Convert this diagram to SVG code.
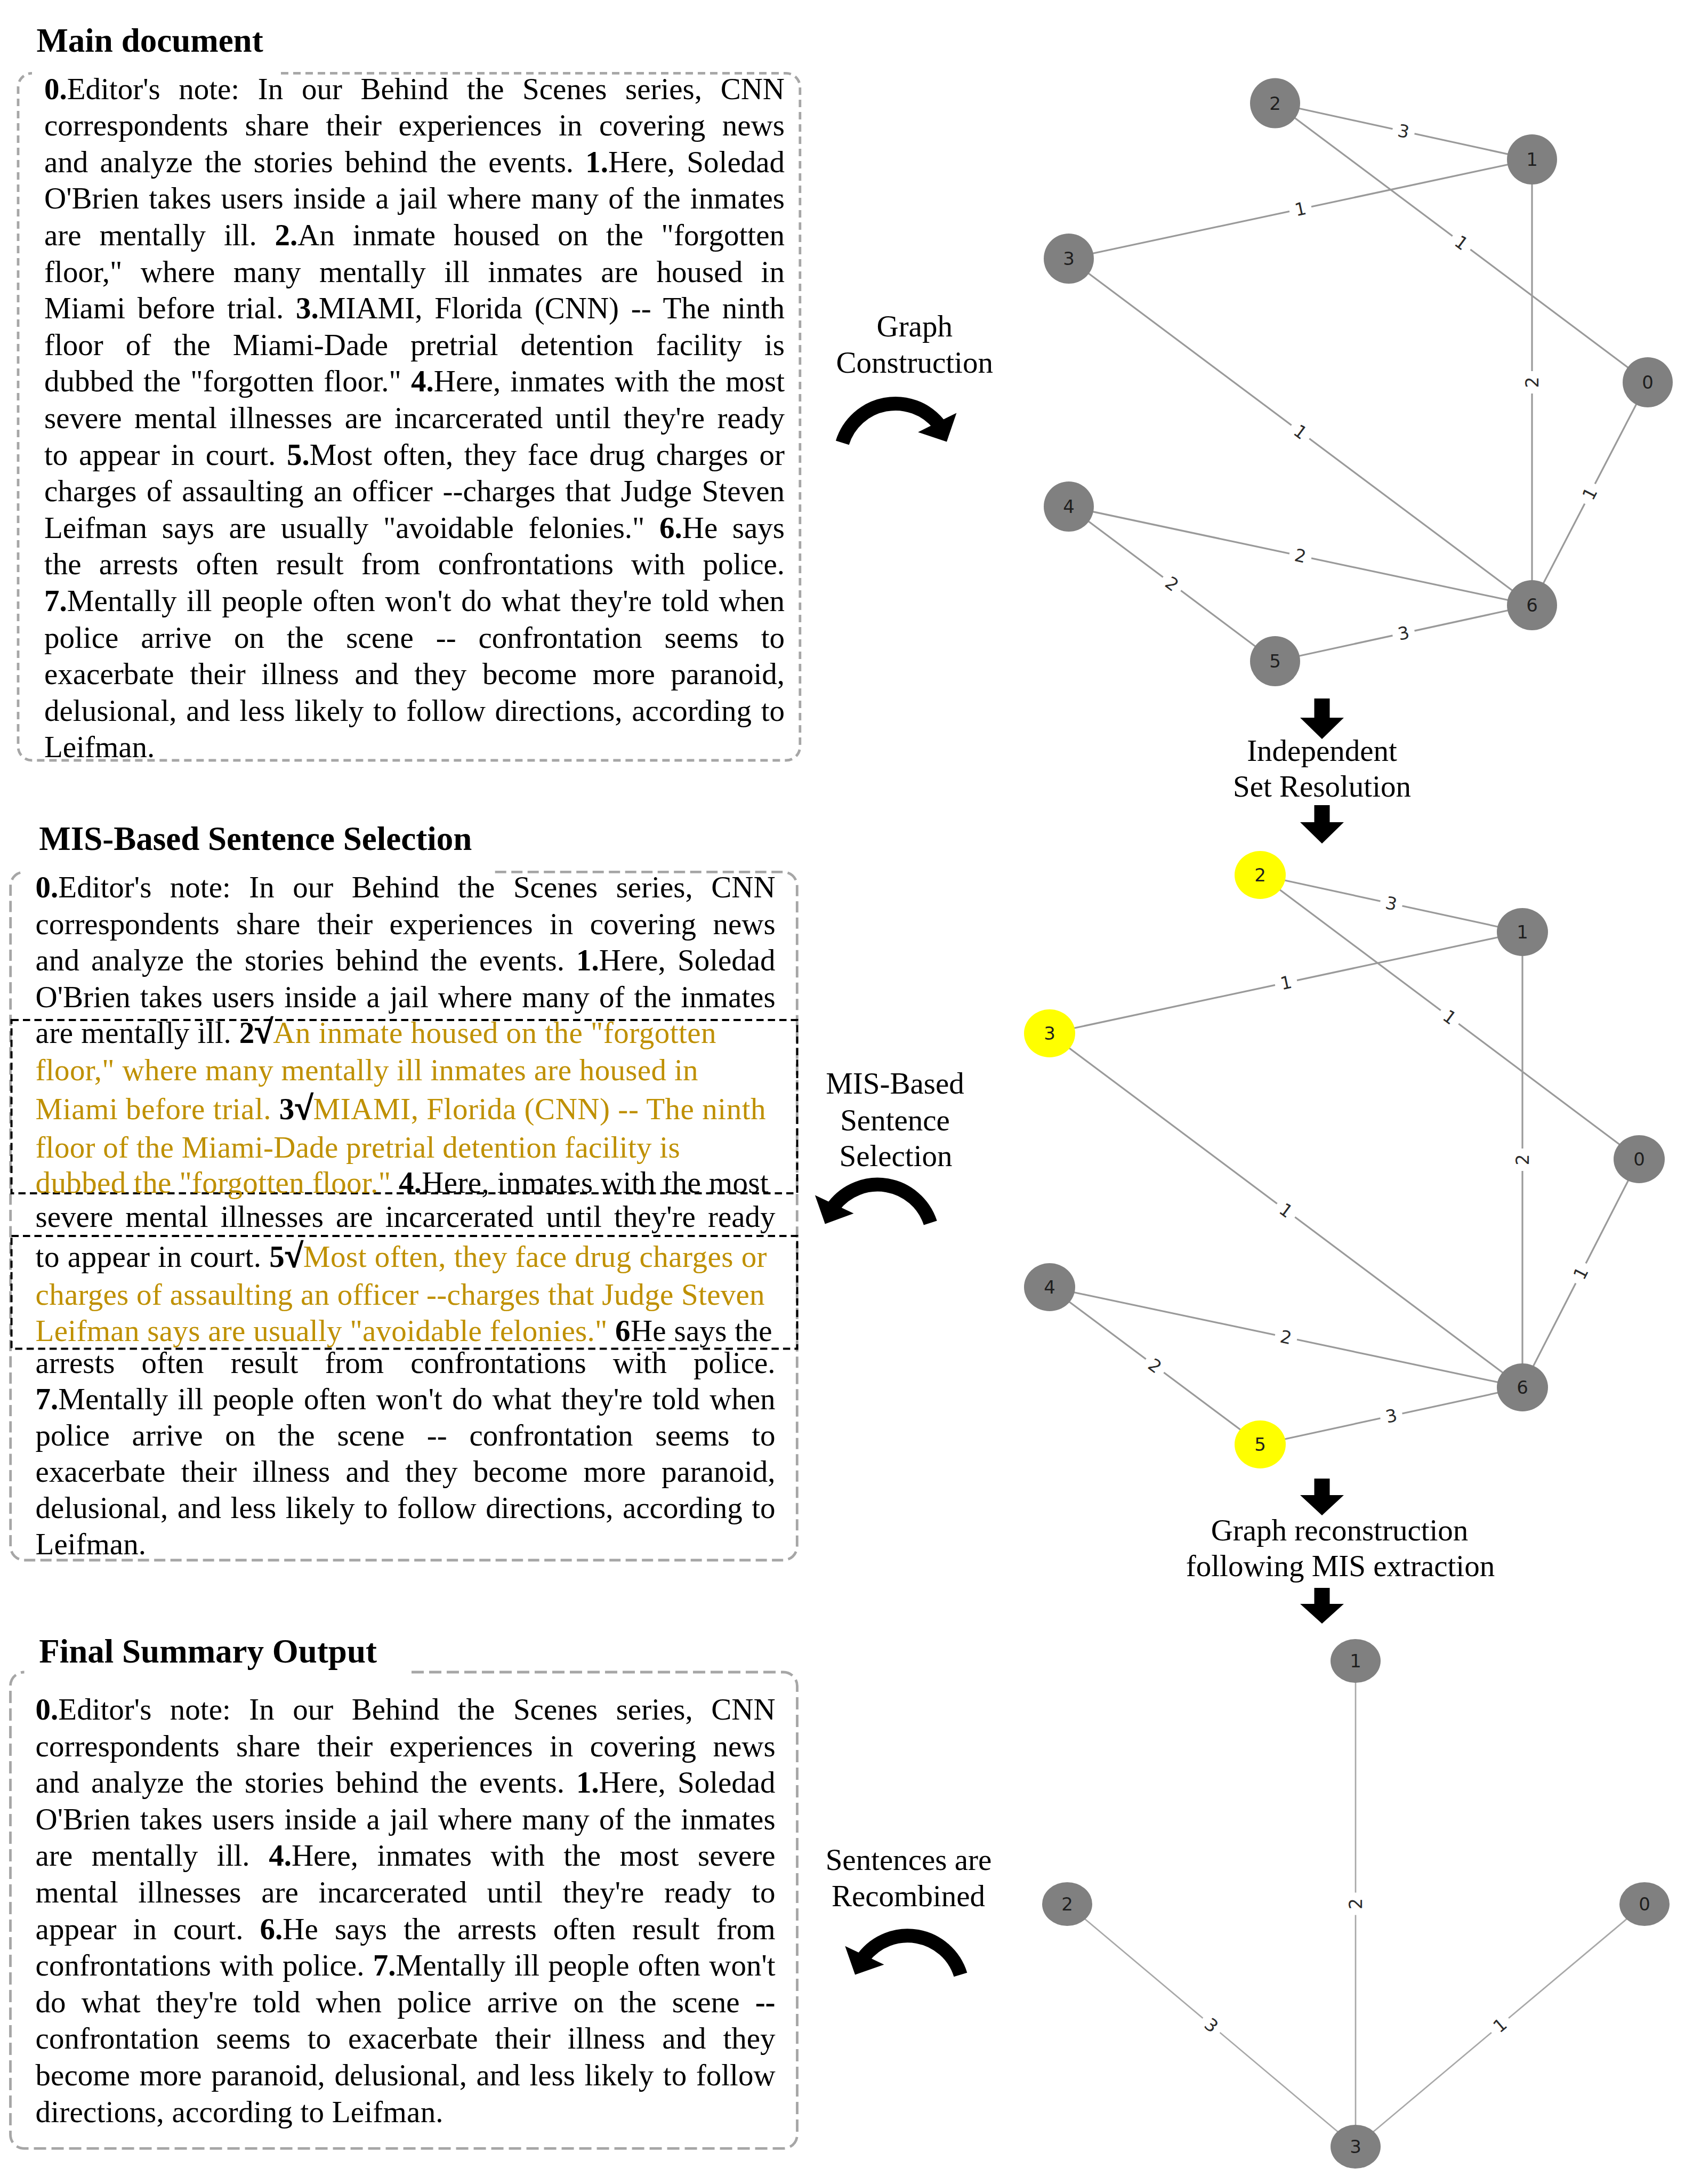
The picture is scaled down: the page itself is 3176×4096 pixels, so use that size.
<svg xmlns="http://www.w3.org/2000/svg" width="3176" height="4096" viewBox="0 0 3176 4096">
<defs>
<style>
.t{font-family:"Liberation Serif","Times New Roman",serif;font-size:57px;fill:#000}
.b{font-weight:bold;fill:#000}
.ck{font-weight:bold;fill:#000;stroke:#000;stroke-width:2.2;font-size:62px}
.g{fill:#BF9000}
.h{font-family:"Liberation Serif","Times New Roman",serif;font-size:63px;font-weight:bold;fill:#000}
.c{font-family:"Liberation Serif","Times New Roman",serif;font-size:57px;fill:#000;text-anchor:middle}
.box{fill:none;stroke:#A6A6A6;stroke-width:4.8}
.sel{fill:none;stroke:#000;stroke-width:4;stroke-dasharray:13.5 8}
.e{stroke:#9A9A9A;stroke-width:3.2;fill:none}
.e3{stroke:#A8A8A8;stroke-width:2.7;fill:none}
.n{fill:#808080}
.y{fill:#FFFF00}
.nl{font-family:"DejaVu Sans",sans-serif;font-size:34px;fill:#1e1e1e;text-anchor:middle;dominant-baseline:central}
.el{font-family:"DejaVu Sans",sans-serif;font-size:33px;fill:#2a2a2a;text-anchor:middle;dominant-baseline:central}
.lb{fill:#fff}
.arc{fill:none;stroke:#000;stroke-width:26}
</style>
</defs>
<rect width="3176" height="4096" fill="#fff"/>

<!-- ===== Box 1: Main document ===== -->
<g id="main-document">
<text class="h" x="68.4" y="96.8">Main document</text>
<path class="box" stroke-dasharray="14 9" d="M527,137.4 H1474.8 A26,26 0 0 1 1500.8,163.4 V1400 A26,26 0 0 1 1474.8,1426 H60 A26,26 0 0 1 34,1400 V163.4 A26,26 0 0 1 60,137.4"/>
<g class="t">
<text x="83" y="185.6" textLength="1389" lengthAdjust="spacing" word-spacing="20.4"><tspan class="b">0.</tspan>Editor's note: In our Behind the Scenes series, CNN</text>
<text x="83" y="254.2" textLength="1389" lengthAdjust="spacing" word-spacing="17.3">correspondents share their experiences in covering news</text>
<text x="83" y="322.8" textLength="1389" lengthAdjust="spacing" word-spacing="8">and analyze the stories behind the events. <tspan class="b">1.</tspan>Here, Soledad</text>
<text x="83" y="391.4" textLength="1389" lengthAdjust="spacing" word-spacing="4">O'Brien takes users inside a jail where many of the inmates</text>
<text x="83" y="460" textLength="1389" lengthAdjust="spacing" word-spacing="19.5">are mentally ill. <tspan class="b">2.</tspan>An inmate housed on the "forgotten</text>
<text x="83" y="528.6" textLength="1389" lengthAdjust="spacing" word-spacing="20.1">floor," where many mentally ill inmates are housed in</text>
<text x="83" y="597.2" textLength="1389" lengthAdjust="spacing" word-spacing="8.4">Miami before trial. <tspan class="b">3.</tspan>MIAMI, Florida (CNN) -- The ninth</text>
<text x="83" y="665.8" textLength="1389" lengthAdjust="spacing" word-spacing="27.7">floor of the Miami-Dade pretrial detention facility is</text>
<text x="83" y="734.4" textLength="1389" lengthAdjust="spacing" word-spacing="3.8">dubbed the "forgotten floor." <tspan class="b">4.</tspan>Here, inmates with the most</text>
<text x="83" y="803" textLength="1389" lengthAdjust="spacing" word-spacing="9.1">severe mental illnesses are incarcerated until they're ready</text>
<text x="83" y="871.6" textLength="1389" lengthAdjust="spacing" word-spacing="6.4">to appear in court. <tspan class="b">5.</tspan>Most often, they face drug charges or</text>
<text x="83" y="940.2" textLength="1389" lengthAdjust="spacing" word-spacing="4.3">charges of assaulting an officer --charges that Judge Steven</text>
<text x="83" y="1008.8" textLength="1389" lengthAdjust="spacing" word-spacing="13.4">Leifman says are usually "avoidable felonies." <tspan class="b">6.</tspan>He says</text>
<text x="83" y="1077.4" textLength="1389" lengthAdjust="spacing" word-spacing="18.9">the arrests often result from confrontations with police.</text>
<text x="83" y="1146" textLength="1389" lengthAdjust="spacing" word-spacing="4.3"><tspan class="b">7.</tspan>Mentally ill people often won't do what they're told when</text>
<text x="83" y="1214.6" textLength="1389" lengthAdjust="spacing" word-spacing="27.6">police arrive on the scene -- confrontation seems to</text>
<text x="83" y="1283.2" textLength="1389" lengthAdjust="spacing" word-spacing="15.3">exacerbate their illness and they become more paranoid,</text>
<text x="83" y="1351.8" textLength="1389" lengthAdjust="spacing" word-spacing="3.4">delusional, and less likely to follow directions, according to</text>
<text x="83" y="1420.4">Leifman.</text>
</g>
</g>

<!-- ===== Box 2: MIS-Based Sentence Selection ===== -->
<g id="mis-selection">
<text class="h" x="73.3" y="1593.7">MIS-Based Sentence Selection</text>
<path class="box" stroke-dasharray="21 9.5" d="M928.7,1635.4 H1469.3 A26,26 0 0 1 1495.3,1661.4 V2900 A26,26 0 0 1 1469.3,2926 H45.7 A26,26 0 0 1 19.7,2900 V1661.4 A26,26 0 0 1 45.7,1635.4"/>
<rect class="sel" x="21.5" y="1913" width="1474" height="325"/>
<rect class="sel" x="21.5" y="2318" width="1474" height="211.4"/>
<g class="t">
<text x="66.6" y="1683.4" textLength="1388" lengthAdjust="spacing" word-spacing="20.2"><tspan class="b">0.</tspan>Editor's note: In our Behind the Scenes series, CNN</text>
<text x="66.6" y="1751.9" textLength="1388" lengthAdjust="spacing" word-spacing="17.1">correspondents share their experiences in covering news</text>
<text x="66.6" y="1820.3" textLength="1388" lengthAdjust="spacing" word-spacing="7.9">and analyze the stories behind the events. <tspan class="b">1.</tspan>Here, Soledad</text>
<text x="66.6" y="1888.7" textLength="1388" lengthAdjust="spacing" word-spacing="3.85">O'Brien takes users inside a jail where many of the inmates</text>
<text x="66.6" y="1956.4" textLength="1277" lengthAdjust="spacing">are mentally ill. <tspan class="b">2</tspan><tspan class="ck">√</tspan><tspan class="g">An inmate housed on the "forgotten</tspan></text>
<text x="66.6" y="2026.4" textLength="1243" lengthAdjust="spacing" class="g">floor," where many mentally ill inmates are housed in</text>
<text x="66.6" y="2098.7" textLength="1370" lengthAdjust="spacing"><tspan class="g">Miami before trial. </tspan><tspan class="b">3</tspan><tspan class="ck">√</tspan><tspan class="g">MIAMI, Florida (CNN) -- The ninth</tspan></text>
<text x="66.6" y="2170.6" textLength="1209" lengthAdjust="spacing" class="g">floor of the Miami-Dade pretrial detention facility is</text>
<text x="66.6" y="2237.2" textLength="1375" lengthAdjust="spacing"><tspan class="g">dubbed the "forgotten floor."</tspan> <tspan class="b">4.</tspan>Here, inmates with the most</text>
<text x="66.6" y="2300.6" textLength="1388" lengthAdjust="spacing" word-spacing="8.9">severe mental illnesses are incarcerated until they're ready</text>
<text x="66.6" y="2375.6" textLength="1372" lengthAdjust="spacing">to appear in court. <tspan class="b">5</tspan><tspan class="ck">√</tspan><tspan class="g">Most often, they face drug charges or</tspan></text>
<text x="66.6" y="2446.7" textLength="1368" lengthAdjust="spacing" class="g">charges of assaulting an officer --charges that Judge Steven</text>
<text x="66.6" y="2515.4" textLength="1382" lengthAdjust="spacing"><tspan class="g">Leifman says are usually "avoidable felonies."</tspan> <tspan class="b">6</tspan>He says the</text>
<text x="66.6" y="2575.4" textLength="1388" lengthAdjust="spacing" word-spacing="35.8">arrests often result from confrontations with police.</text>
<text x="66.6" y="2643.3" textLength="1388" lengthAdjust="spacing" word-spacing="4.2"><tspan class="b">7.</tspan>Mentally ill people often won't do what they're told when</text>
<text x="66.6" y="2711.3" textLength="1388" lengthAdjust="spacing" word-spacing="27.5">police arrive on the scene -- confrontation seems to</text>
<text x="66.6" y="2779.2" textLength="1388" lengthAdjust="spacing" word-spacing="15.1">exacerbate their illness and they become more paranoid,</text>
<text x="66.6" y="2847.1" textLength="1388" lengthAdjust="spacing" word-spacing="3.3">delusional, and less likely to follow directions, according to</text>
<text x="66.6" y="2915">Leifman.</text>
</g>
</g>

<!-- ===== Box 3: Final Summary Output ===== -->
<g id="final-summary">
<text class="h" x="73.3" y="3118">Final Summary Output</text>
<path class="box" stroke-dasharray="23 10" d="M772,3136 H1469.5 A26,26 0 0 1 1495.5,3162 V4003.4 A26,26 0 0 1 1469.5,4029.4 H45.5 A26,26 0 0 1 19.5,4003.4 V3162 A26,26 0 0 1 45.5,3136"/>
<g class="t">
<text x="66.6" y="3224.9" textLength="1388" lengthAdjust="spacing" word-spacing="20.2"><tspan class="b">0.</tspan>Editor's note: In our Behind the Scenes series, CNN</text>
<text x="66.6" y="3293.5" textLength="1388" lengthAdjust="spacing" word-spacing="17.1">correspondents share their experiences in covering news</text>
<text x="66.6" y="3362.1" textLength="1388" lengthAdjust="spacing" word-spacing="7.9">and analyze the stories behind the events. <tspan class="b">1.</tspan>Here, Soledad</text>
<text x="66.6" y="3430.7" textLength="1388" lengthAdjust="spacing" word-spacing="3.85">O'Brien takes users inside a jail where many of the inmates</text>
<text x="66.6" y="3499.3" textLength="1388" lengthAdjust="spacing" word-spacing="21.3">are mentally ill. <tspan class="b">4.</tspan>Here, inmates with the most severe</text>
<text x="66.6" y="3567.9" textLength="1388" lengthAdjust="spacing" word-spacing="23.4">mental illnesses are incarcerated until they're ready to</text>
<text x="66.6" y="3636.5" textLength="1388" lengthAdjust="spacing" word-spacing="16.9">appear in court. <tspan class="b">6.</tspan>He says the arrests often result from</text>
<text x="66.6" y="3705.1" textLength="1388" lengthAdjust="spacing" word-spacing="2.1">confrontations with police. <tspan class="b">7.</tspan>Mentally ill people often won't</text>
<text x="66.6" y="3773.7" textLength="1388" lengthAdjust="spacing" word-spacing="14.9">do what they're told when police arrive on the scene <tspan class="b">--</tspan></text>
<text x="66.6" y="3842.3" textLength="1388" lengthAdjust="spacing" word-spacing="17.6">confrontation seems to exacerbate their illness and they</text>
<text x="66.6" y="3910.9" textLength="1388" lengthAdjust="spacing" word-spacing="3.3">become more paranoid, delusional, and less likely to follow</text>
<text x="66.6" y="3979.5" textLength="765" lengthAdjust="spacing">directions, according to Leifman.</text>
</g>
</g>

<!-- ===== Step labels ===== -->
<g id="step-labels" class="c">
<text x="1715.7" y="630.9">Graph</text>
<text x="1715.7" y="699.1">Construction</text>
<text x="2480" y="1427.3">Independent</text>
<text x="2480" y="1494.1">Set Resolution</text>
<text x="1679" y="2051">MIS-Based</text>
<text x="1679" y="2119.6">Sentence</text>
<text x="1680.5" y="2187.3">Selection</text>
<text x="2513" y="2889">Graph reconstruction</text>
<text x="2514.5" y="2955.6">following MIS extraction</text>
<text x="1704.5" y="3507.4">Sentences are</text>
<text x="1704" y="3575.1">Recombined</text>
</g>

<!-- ===== Connectors ===== -->
<g id="connectors">
<path class="arc" d="M1580.3,830.3 A104.3,104.3 0 0 1 1761,795.7"/>
<polygon points="1722.2,810.6 1794.4,774.4 1776,828.5" fill="#000"/>
<path class="arc" d="M1745.3,2293.5 A104,104 0 0 0 1563.9,2262.3"/>
<polygon points="1528.9,2241.6 1601.5,2275.8 1547.8,2295.4" fill="#000"/>
<path class="arc" d="M1801.9,3703.5 A104,104 0 0 0 1620,3671"/>
<polygon points="1585.3,3649.8 1658.5,3684.5 1604.1,3703.6" fill="#000"/>
<polygon fill="#000" points="2465.5,1310 2494.5,1310 2494.5,1346 2521,1346 2480,1386 2439,1346 2465.5,1346"/>
<polygon fill="#000" points="2465.5,1510 2494.5,1510 2494.5,1542 2521,1542 2480,1582 2439,1542 2465.5,1542"/>
<polygon fill="#000" points="2465.5,2773 2494.5,2773 2494.5,2804 2521,2804 2480,2842 2439,2804 2465.5,2804"/>
<polygon fill="#000" points="2465.5,2978 2494.5,2978 2494.5,3008 2521,3008 2480,3045 2439,3008 2465.5,3008"/>

<g class="e">
<line x1="2392" y1="193.5" x2="2874" y2="299"/>
<line x1="2392" y1="193.5" x2="3091" y2="717"/>
<line x1="2005" y1="485" x2="2874" y2="299"/>
<line x1="2874" y1="299" x2="2874" y2="1135"/>
<line x1="2005" y1="485" x2="2874" y2="1135"/>
<line x1="3091" y1="717" x2="2874" y2="1135"/>
<line x1="2005" y1="950" x2="2874" y2="1135"/>
<line x1="2005" y1="950" x2="2392" y2="1240"/>
<line x1="2392" y1="1240" x2="2874" y2="1135"/>
</g>
<g class="e">
<line x1="2364" y1="1641" x2="2856" y2="1748"/>
<line x1="2364" y1="1641" x2="3075" y2="2174"/>
<line x1="1969" y1="1938" x2="2856" y2="1748"/>
<line x1="2856" y1="1748" x2="2856" y2="2602"/>
<line x1="1969" y1="1938" x2="2856" y2="2602"/>
<line x1="3075" y1="2174" x2="2856" y2="2602"/>
<line x1="1969" y1="2414" x2="2856" y2="2602"/>
<line x1="1969" y1="2414" x2="2364" y2="2709"/>
<line x1="2364" y1="2709" x2="2856" y2="2602"/>
</g>
<g class="e3">
<line x1="2543" y1="3115" x2="2543" y2="4026"/>
<line x1="2002" y1="3571" x2="2543" y2="4026"/>
<line x1="3085" y1="3571" x2="2543" y2="4026"/>
</g>

<g id="edge-labels">
<g transform="translate(2633,246.3) rotate(12.35)"><rect class="lb" x="-21" y="-25" width="42" height="50" rx="10"/><text class="el">3</text></g>
<g transform="translate(2741.5,455.3) rotate(36.83)"><rect class="lb" x="-21" y="-25" width="42" height="50" rx="10"/><text class="el">1</text></g>
<g transform="translate(2439.5,392) rotate(-12.08)"><rect class="lb" x="-21" y="-25" width="42" height="50" rx="10"/><text class="el">1</text></g>
<g transform="translate(2874,717) rotate(-90)"><rect class="lb" x="-21" y="-25" width="42" height="50" rx="10"/><text class="el">2</text></g>
<g transform="translate(2439.5,810) rotate(36.8)"><rect class="lb" x="-21" y="-25" width="42" height="50" rx="10"/><text class="el">1</text></g>
<g transform="translate(2982.5,926) rotate(-62.57)"><rect class="lb" x="-21" y="-25" width="42" height="50" rx="10"/><text class="el">1</text></g>
<g transform="translate(2439.5,1042.5) rotate(12.02)"><rect class="lb" x="-21" y="-25" width="42" height="50" rx="10"/><text class="el">2</text></g>
<g transform="translate(2198.5,1095) rotate(36.85)"><rect class="lb" x="-21" y="-25" width="42" height="50" rx="10"/><text class="el">2</text></g>
<g transform="translate(2633,1187.5) rotate(-12.29)"><rect class="lb" x="-21" y="-25" width="42" height="50" rx="10"/><text class="el">3</text></g>

<g transform="translate(2610,1694.5) rotate(12.27)"><rect class="lb" x="-21" y="-25" width="42" height="50" rx="10"/><text class="el">3</text></g>
<g transform="translate(2719.5,1907.5) rotate(36.86)"><rect class="lb" x="-21" y="-25" width="42" height="50" rx="10"/><text class="el">1</text></g>
<g transform="translate(2412.5,1843) rotate(-12.09)"><rect class="lb" x="-21" y="-25" width="42" height="50" rx="10"/><text class="el">1</text></g>
<g transform="translate(2856,2175) rotate(-90)"><rect class="lb" x="-21" y="-25" width="42" height="50" rx="10"/><text class="el">2</text></g>
<g transform="translate(2412.5,2270) rotate(36.82)"><rect class="lb" x="-21" y="-25" width="42" height="50" rx="10"/><text class="el">1</text></g>
<g transform="translate(2965.5,2388) rotate(-62.9)"><rect class="lb" x="-21" y="-25" width="42" height="50" rx="10"/><text class="el">1</text></g>
<g transform="translate(2412.5,2508) rotate(11.97)"><rect class="lb" x="-21" y="-25" width="42" height="50" rx="10"/><text class="el">2</text></g>
<g transform="translate(2166.5,2561.5) rotate(36.75)"><rect class="lb" x="-21" y="-25" width="42" height="50" rx="10"/><text class="el">2</text></g>
<g transform="translate(2610,2655.5) rotate(-12.27)"><rect class="lb" x="-21" y="-25" width="42" height="50" rx="10"/><text class="el">3</text></g>

<g transform="translate(2543,3570.5) rotate(-90)"><rect class="lb" x="-21" y="-25" width="42" height="50" rx="10"/><text class="el">2</text></g>
<g transform="translate(2272.5,3798.5) rotate(40.07)"><rect class="lb" x="-21" y="-25" width="42" height="50" rx="10"/><text class="el">3</text></g>
<g transform="translate(2814,3798.5) rotate(-40)"><rect class="lb" x="-21" y="-25" width="42" height="50" rx="10"/><text class="el">1</text></g>
</g>
</g>

<g id="graph1">
<g id="g1-n2"><circle class="n" cx="2392" cy="193.5" r="47"/><text class="nl" x="2392" y="193.5">2</text></g>
<g id="g1-n1"><circle class="n" cx="2874" cy="299" r="47"/><text class="nl" x="2874" y="299">1</text></g>
<g id="g1-n3"><circle class="n" cx="2005" cy="485" r="47"/><text class="nl" x="2005" y="485">3</text></g>
<g id="g1-n0"><circle class="n" cx="3091" cy="717" r="47"/><text class="nl" x="3091" y="717">0</text></g>
<g id="g1-n4"><circle class="n" cx="2005" cy="950" r="47"/><text class="nl" x="2005" y="950">4</text></g>
<g id="g1-n6"><circle class="n" cx="2874" cy="1135" r="47"/><text class="nl" x="2874" y="1135">6</text></g>
<g id="g1-n5"><circle class="n" cx="2392" cy="1240" r="47"/><text class="nl" x="2392" y="1240">5</text></g>
</g>

<g id="graph2">
<g id="g2-n2"><ellipse class="y" cx="2364" cy="1641" rx="48" ry="45"/><text class="nl" x="2364" y="1641">2</text></g>
<g id="g2-n1"><ellipse class="n" cx="2856" cy="1748" rx="48" ry="45"/><text class="nl" x="2856" y="1748">1</text></g>
<g id="g2-n3"><ellipse class="y" cx="1969" cy="1938" rx="48" ry="45"/><text class="nl" x="1969" y="1938">3</text></g>
<g id="g2-n0"><ellipse class="n" cx="3075" cy="2174" rx="48" ry="45"/><text class="nl" x="3075" y="2174">0</text></g>
<g id="g2-n4"><ellipse class="n" cx="1969" cy="2414" rx="48" ry="45"/><text class="nl" x="1969" y="2414">4</text></g>
<g id="g2-n6"><ellipse class="n" cx="2856" cy="2602" rx="48" ry="45"/><text class="nl" x="2856" y="2602">6</text></g>
<g id="g2-n5"><ellipse class="y" cx="2364" cy="2709" rx="48" ry="45"/><text class="nl" x="2364" y="2709">5</text></g>
</g>

<g id="graph3">
<g id="g3-n1"><ellipse class="n" cx="2543" cy="3115" rx="47" ry="41"/><text class="nl" x="2543" y="3115">1</text></g>
<g id="g3-n2"><ellipse class="n" cx="2002" cy="3571" rx="47" ry="41"/><text class="nl" x="2002" y="3571">2</text></g>
<g id="g3-n0"><ellipse class="n" cx="3085" cy="3571" rx="47" ry="41"/><text class="nl" x="3085" y="3571">0</text></g>
<g id="g3-n3"><ellipse class="n" cx="2543" cy="4026" rx="47" ry="41"/><text class="nl" x="2543" y="4026">3</text></g>
</g>
</svg>
